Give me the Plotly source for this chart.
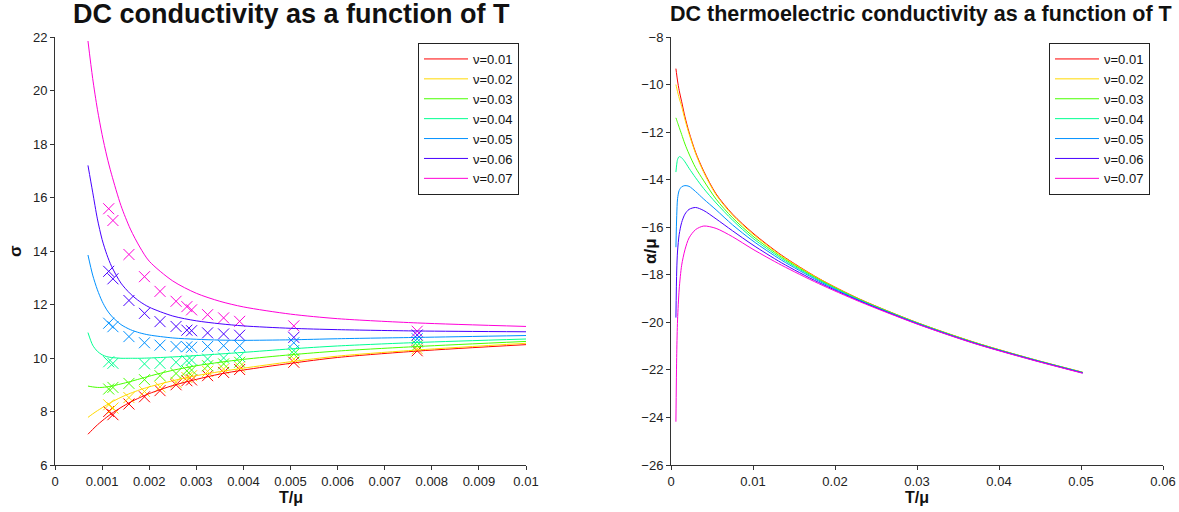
import plotly.graph_objects as go

# ---------------- data ----------------
nu_labels = ["ν=0.01", "ν=0.02", "ν=0.03", "ν=0.04", "ν=0.05", "ν=0.06", "ν=0.07"]
colors = ["#ff0000", "#ffd900", "#48ff00", "#00ff91", "#0091ff", "#4800ff", "#ff00d9"]

# Left panel: DC conductivity curves
T_sigma = [0.0007, 0.0008, 0.0009, 0.001, 0.0011, 0.0012, 0.0014, 0.0016, 0.0018, 0.002,
           0.0025, 0.003, 0.0035, 0.004, 0.005, 0.006, 0.0077, 0.01]
sigma_nu01 = [7.15, 7.33, 7.5, 7.65, 7.79, 7.92, 8.15, 8.35, 8.52, 8.67,
              8.97, 9.2, 9.4, 9.55, 9.8, 10.02, 10.26, 10.5]
sigma_nu02 = [7.78, 7.91, 8.03, 8.14, 8.25, 8.35, 8.53, 8.68, 8.81, 8.92,
              9.15, 9.34, 9.49, 9.62, 9.86, 10.07, 10.3, 10.55]
sigma_nu03 = [8.95, 8.92, 8.9, 8.9, 8.92, 8.95, 9.03, 9.12, 9.22, 9.32,
              9.54, 9.71, 9.84, 9.95, 10.12, 10.26, 10.43, 10.62]
sigma_nu04 = [10.95, 10.48, 10.25, 10.12, 10.05, 10.02, 9.99, 9.99, 9.99, 10.0,
              10.04, 10.09, 10.15, 10.21, 10.34, 10.45, 10.58, 10.71]
sigma_nu05 = [13.85, 13.1, 12.55, 12.12, 11.8, 11.57, 11.25, 11.06, 10.94, 10.86,
              10.75, 10.7, 10.67, 10.66, 10.68, 10.72, 10.77, 10.84]
sigma_nu06 = [17.2, 16.2, 15.2, 14.43, 13.87, 13.43, 12.8, 12.4, 12.11, 11.9,
              11.57, 11.39, 11.28, 11.2, 11.11, 11.06, 11.01, 10.98]
sigma_nu07 = [21.85, 20.45, 19.3, 18.35, 17.55, 16.87, 15.7, 14.82, 14.15, 13.62,
              12.88, 12.42, 12.12, 11.91, 11.64, 11.47, 11.31, 11.18]

# Left panel: sampled points (crosses)
T_pts = [0.00114, 0.00123, 0.00157, 0.0019, 0.00223, 0.00257, 0.0028, 0.0029,
         0.00324, 0.00358, 0.00392, 0.00507, 0.00769]
pts_nu01 = [8.00, 7.88, 8.28, 8.55, 8.78, 9.00, 9.15, 9.18, 9.34, 9.46, 9.57, 9.84, 10.27]
pts_nu02 = [8.25, 8.13, 8.52, 8.75, 8.92, 9.09, 9.27, 9.34, 9.50, 9.59, 9.67, 9.96, 10.35]
pts_nu03 = [8.84, 8.90, 9.05, 9.19, 9.34, 9.42, 9.52, 9.55, 9.71, 9.78, 9.84, 10.15, 10.47]
pts_nu04 = [9.86, 9.80, None, 9.78, 9.80, 9.84, 9.90, 9.92, 9.96, 10.0, 10.05, 10.28, 10.6]
pts_nu05 = [11.30, 11.17, 10.80, 10.57, 10.48, 10.43, 10.42, 10.40, 10.43, 10.46, 10.46, 10.57, 10.72]
pts_nu06 = [13.24, 12.96, 12.15, 11.67, 11.36, 11.18, 11.04, 11.02, 10.94, 10.90, 10.85, 10.77, 10.86]
pts_nu07 = [15.58, 15.14, 13.87, 13.04, 12.49, 12.12, 11.92, 11.80, 11.62, 11.50, 11.37, 11.20, 11.0]

# Right panel: DC thermoelectric conductivity
T_alpha = [0.0006, 0.0007, 0.0008, 0.001, 0.0013, 0.0017, 0.0022, 0.003, 0.004, 0.0055,
           0.0075, 0.01, 0.0135, 0.018, 0.023, 0.03, 0.037, 0.044, 0.0502]
alpha_nu01 = [-9.33, -9.6, -9.85, -10.25, -10.72, -11.35, -12.0, -12.85, -13.65, -14.6,
              -15.45, -16.25, -17.18, -18.15, -19.02, -20.01, -20.84, -21.54, -22.1]
alpha_nu02 = [-10.0, -10.15, -10.3, -10.57, -10.92, -11.47, -12.07, -12.9, -13.7, -14.64,
              -15.49, -16.29, -17.21, -18.16, -19.03, -20.01, -20.84, -21.54, -22.1]
alpha_nu03 = [-11.4, -11.5, -11.6, -11.8, -12.1, -12.5, -12.92, -13.5, -14.05, -14.82,
              -15.6, -16.38, -17.26, -18.19, -19.04, -20.02, -20.85, -21.55, -22.11]
alpha_nu04 = [-13.68, -13.35, -13.15, -13.03, -13.08, -13.25, -13.52, -13.92, -14.38, -14.98,
              -15.7, -16.47, -17.32, -18.22, -19.06, -20.03, -20.86, -21.55, -22.11]
alpha_nu05 = [-16.84, -15.5, -14.8, -14.45, -14.3, -14.25, -14.28, -14.5, -14.82, -15.27,
              -15.9, -16.58, -17.39, -18.26, -19.08, -20.04, -20.87, -21.56, -22.12]
alpha_nu06 = [-19.8, -17.8, -17.0, -16.3, -15.8, -15.45, -15.25, -15.17, -15.3, -15.65,
              -16.15, -16.75, -17.5, -18.32, -19.1, -20.06, -20.88, -21.57, -22.13]
alpha_nu07 = [-24.18, -21.3, -19.9, -18.6, -17.6, -16.95, -16.45, -16.1, -15.95, -16.05,
              -16.4, -16.93, -17.6, -18.37, -19.13, -20.07, -20.89, -21.58, -22.14]

sigma_curves = [sigma_nu01, sigma_nu02, sigma_nu03, sigma_nu04, sigma_nu05, sigma_nu06, sigma_nu07]
sigma_points = [pts_nu01, pts_nu02, pts_nu03, pts_nu04, pts_nu05, pts_nu06, pts_nu07]
alpha_curves = [alpha_nu01, alpha_nu02, alpha_nu03, alpha_nu04, alpha_nu05, alpha_nu06, alpha_nu07]

# ---------------- figure ----------------
W, H = 1179, 512
FONT = "Liberation Sans, Arial, sans-serif"

def px_x(p):
    return p / W

def px_y(p):
    return 1 - p / H

fig = go.Figure()

for i in range(7):
    fig.add_trace(go.Scatter(
        x=T_pts, y=sigma_points[i], mode="markers", showlegend=False,
        xaxis="x", yaxis="y",
        marker=dict(symbol="x-thin", size=11, color=colors[i],
                    line=dict(color=colors[i], width=1)),
        hoverinfo="skip"))

for i in range(7):
    fig.add_trace(go.Scatter(
        x=T_sigma, y=sigma_curves[i], mode="lines", name=nu_labels[i],
        xaxis="x", yaxis="y", legend="legend",
        line=dict(color=colors[i], width=1, shape="spline", smoothing=0.8)))

for i in range(7):
    fig.add_trace(go.Scatter(
        x=T_alpha, y=alpha_curves[i], mode="lines", name=nu_labels[i],
        xaxis="x2", yaxis="y2", legend="legend2",
        line=dict(color=colors[i], width=1, shape="spline", smoothing=0.8)))

axis_common = dict(showline=True, linecolor="#333333", linewidth=1, ticks="outside",
                   ticklen=4, tickcolor="#333333", showgrid=False, zeroline=False,
                   automargin=False,
                   tickfont=dict(family=FONT, size=13, color="#222222"), mirror=False)

ydom = [px_y(465), px_y(37)]

legend_common = dict(xanchor="right", yanchor="top",
                     bordercolor="#222222", borderwidth=1, bgcolor="white",
                     font=dict(family=FONT, size=13, color="#111111"),
                     tracegroupgap=0, itemwidth=44)

fig.update_layout(
    width=W, height=H,
    margin=dict(l=0, r=0, t=0, b=0, autoexpand=False),
    paper_bgcolor="white", plot_bgcolor="white",
    font=dict(family=FONT, color="#111111"),
    xaxis=dict(domain=[px_x(55), px_x(526)], range=[0, 0.01], dtick=0.001,
               anchor="y", **axis_common),
    yaxis=dict(domain=ydom, range=[6, 22], dtick=2, anchor="x", **axis_common),
    xaxis2=dict(domain=[px_x(671), px_x(1163)], range=[0, 0.06], dtick=0.01,
                anchor="y2", **axis_common),
    yaxis2=dict(domain=ydom, range=[-26, -8], dtick=2, anchor="x2", **axis_common),
    legend=dict(x=px_x(519), y=px_y(43), **legend_common),
    legend2=dict(x=px_x(1150), y=px_y(43), **legend_common),
    showlegend=True,
)

annotations = [
    dict(text="<b>DC conductivity as a function of T</b>", x=px_x(291), y=px_y(14),
         font=dict(family=FONT, size=27, color="#111111")),
    dict(text="<b>DC thermoelectric conductivity as a function of T</b>", x=px_x(921), y=px_y(14),
         font=dict(family=FONT, size=21.5, color="#111111")),
    dict(text="<b>T/μ</b>", x=px_x(291), y=px_y(497),
         font=dict(family=FONT, size=16, color="#111111")),
    dict(text="<b>T/μ</b>", x=px_x(917), y=px_y(497),
         font=dict(family=FONT, size=16, color="#111111")),
    dict(text="<b>σ</b>", x=px_x(15), y=px_y(251), textangle=-90,
         font=dict(family=FONT, size=17, color="#111111")),
    dict(text="<b>α/μ</b>", x=px_x(650), y=px_y(251), textangle=-90,
         font=dict(family=FONT, size=17, color="#111111")),
]
for a in annotations:
    a.update(xref="paper", yref="paper", showarrow=False, xanchor="center", yanchor="middle")
fig.update_layout(annotations=annotations)

fig.write_html("out.html", config={"displayModeBar": False},
               post_script="document.body.style.margin='0';document.body.style.overflow='hidden';")
